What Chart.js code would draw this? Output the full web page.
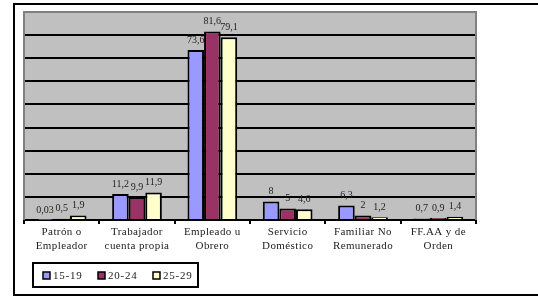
<!DOCTYPE html>
<html>
<head>
<meta charset="utf-8">
<script src="https://cdn.jsdelivr.net/npm/chart.js@4"></script>
<style>
  html, body { margin: 0; padding: 0; background: #fff; }
</style>
</head>
<body>
<canvas id="chart" width="538" height="297"></canvas>
<script>
// categories (two-line labels) and series
const categories = [
  ['Patrón o', 'Empleador'],
  ['Trabajador', 'cuenta propia'],
  ['Empleado u', 'Obrero'],
  ['Servicio', 'Doméstico'],
  ['Familiar No', 'Remunerado'],
  ['FF.AA y de', 'Orden']
];
const seriesNames = ['15-19', '20-24', '25-29'];
const age15to19 = [0.03, 11.2, 73.6, 8, 6.3, 0.7];
const age20to24 = [0.5, 9.9, 81.6, 5, 2, 0.9];
const age25to29 = [1.9, 11.9, 79.1, 4.6, 1.2, 1.4];
const yMin = 0, yMax = 90, yStep = 10;

const colors = ['#9999FF', '#993366', '#FFFFCC'];
const serif = '"Liberation Serif", "Times New Roman", serif';

// format like the original: comma decimals
const fmt = v => String(v).replace('.', ',');

const framePlugin = {
  id: 'frame',
  beforeDraw(chart) {
    const { ctx, chartArea: a } = chart;
    ctx.save();
    ctx.fillStyle = '#fff';
    ctx.fillRect(0, 0, chart.width, chart.height);
    ctx.fillStyle = '#C0C0C0';
    ctx.fillRect(a.left, a.top, a.right - a.left, a.bottom - a.top);
    // outer chart border
    ctx.strokeStyle = '#000';
    ctx.lineWidth = 2;
    ctx.strokeRect(14, 4, chart.width, 291);
    ctx.restore();
    // slightly looser text for the axis labels, like the original
    ctx.letterSpacing = '0.4px';
  },
  beforeDatasetsDraw(chart) {
    const { ctx, chartArea: a } = chart;
    ctx.save();
    ctx.strokeStyle = '#808080';
    ctx.lineWidth = 2;
    ctx.beginPath();
    ctx.moveTo(a.left, a.bottom);
    ctx.lineTo(a.left, a.top);
    ctx.lineTo(a.right, a.top);
    ctx.lineTo(a.right, a.bottom);
    ctx.stroke();
    ctx.restore();
  },
  afterDatasetsDraw(chart) {
    // value labels above the bars
    const { ctx } = chart;
    ctx.save();
    ctx.letterSpacing = '0px';
    ctx.font = '10px ' + serif;
    ctx.fillStyle = '#222';
    ctx.textAlign = 'center';
    ctx.textBaseline = 'bottom';
    chart.data.datasets.forEach((ds, i) => {
      chart.getDatasetMeta(i).data.forEach((bar, j) => {
        ctx.fillText(fmt(ds.data[j]), bar.x, bar.y - 5);
      });
    });
    ctx.restore();
  },
  afterDraw(chart) {
    // legend box
    const { ctx } = chart;
    ctx.save();
    ctx.strokeStyle = '#000';
    ctx.lineWidth = 2;
    ctx.strokeRect(33, 263, 165, 24);
    ctx.font = '11px ' + serif;
    ctx.letterSpacing = '0.8px';
    ctx.textBaseline = 'middle';
    chart.data.datasets.forEach((ds, i) => {
      const x = 43 + i * 55;
      ctx.fillStyle = ds.backgroundColor;
      ctx.fillRect(x, 272, 7, 7);
      ctx.lineWidth = 1.5;
      ctx.strokeRect(x, 272, 7, 7);
      ctx.fillStyle = '#222';
      ctx.fillText(ds.label, x + 10, 276);
    });
    ctx.restore();
  }
};

new Chart(document.getElementById('chart'), {
  type: 'bar',
  data: {
    labels: categories,
    datasets: [age15to19, age20to24, age25to29].map((d, i) => ({
      label: seriesNames[i],
      data: d,
      backgroundColor: colors[i],
      borderColor: '#000',
      borderWidth: 2,
      categoryPercentage: 0.66,
      barPercentage: 1
    }))
  },
  options: {
    responsive: false,
    animation: false,
    devicePixelRatio: 1,
    layout: { padding: { left: 24, top: 12, right: 62, bottom: 0 } },
    plugins: {
      legend: { display: false },
      tooltip: { enabled: false }
    },
    scales: {
      x: {
        afterFit(scale) { scale.height = 77; },
        border: { display: true, color: '#000', width: 2 },
        grid: { offset: true, drawOnChartArea: false, drawTicks: true, tickLength: 4, color: '#000', lineWidth: 2 },
        ticks: {
          color: '#222',
          padding: 1,
          maxRotation: 0,
          autoSkip: false,
          font: { family: serif, size: 11, lineHeight: 1.25 }
        }
      },
      y: {
        min: yMin,
        max: yMax,
        afterFit(scale) { scale.width = 0; },
        border: { display: false },
        grid: {
          drawTicks: false,
          lineWidth: 2,
          color: c => (c.tick.value === yMin || c.tick.value === yMax) ? 'rgba(0,0,0,0)' : '#000'
        },
        ticks: { display: false, stepSize: yStep }
      }
    }
  },
  plugins: [framePlugin]
});
</script>
</body>
</html>
